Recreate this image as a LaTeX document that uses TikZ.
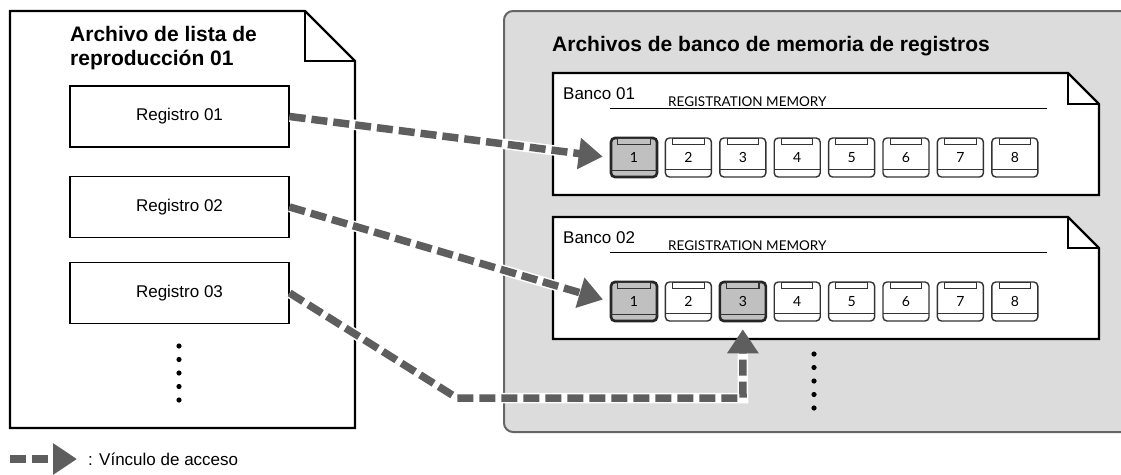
\documentclass[tikz,border=0pt]{standalone}
\usepackage{fontspec}
\setmainfont{Liberation Sans}
\newfontfamily\regfont{Lato}
\usetikzlibrary{arrows.meta,calc}
\definecolor{panelgray}{HTML}{DCDCDC}
\definecolor{panelline}{HTML}{666666}
\definecolor{linkgray}{HTML}{5E5E5E}
\definecolor{btngray}{HTML}{C0C0C0}
\definecolor{btnline}{HTML}{333333}
\begin{document}
\begin{tikzpicture}[x=1pt,y=-1pt,
  doc/.style={draw=black, line width=2.2pt, fill=white, line join=miter},
  bank/.style={draw=black, line width=2.4pt, fill=white, line join=miter},
  regbox/.style={draw=black, line width=1.3pt, fill=white, minimum width=219pt, minimum height=61pt, inner sep=0pt, font=\fontsize{17}{20}\selectfont},
  title/.style={font=\bfseries\fontsize{21}{24}\selectfont, anchor=base west, inner sep=0pt},
  banktext/.style={font=\fontsize{17}{20}\selectfont, anchor=base west, inner sep=0pt},
  regmem/.style={font=\regfont\fontsize{13.5}{15}\selectfont, anchor=base west, inner sep=0pt},
  btn/.style={draw=btnline, line width=1.4pt, fill=white, rounded corners=4pt, minimum width=46pt, minimum height=39pt, inner sep=0pt, font=\regfont\fontsize{14}{14}\selectfont},
  btnon/.style={btn, fill=btngray, line width=2.6pt, draw=black!85},
  dotmark/.style={fill=black, draw=none},
  link/.style={draw=linkgray, line width=7.5pt, dash pattern=on 16pt off 6pt, -{Triangle[length=24pt,width=30pt]}, shorten >=7pt, preaction={draw=white, line width=10.5pt, solid, -, shorten >=30pt}},
]
\useasboundingbox (0,0) rectangle (1121,474);

% right panel
\draw[fill=panelgray, draw=panelline, line width=2pt, rounded corners=9pt] (1140,11) -- (504,11) -- (504,432) -- (1140,432);
\node[title] (ptitle) at (552,51) {Archivos de banco de memoria de registros};

% left document
\draw[doc] (10,11) -- (305,11) -- (355,61) -- (355,428) -- (10,428) -- cycle;
\draw[doc, fill=none] (305,11) -- (305,61) -- (355,61);
\node[title] (ltitle1) at (70,41) {Archivo de lista de};
\node[title] (ltitle2) at (70,65) {reproducción 01};

\node[regbox] (r1) at (179.5,116.5) {Registro 01};
\node[regbox] (r2) at (179.5,207) {Registro 02};
\node[regbox] (r3) at (179.5,293) {Registro 03};

\foreach \k in {0,...,4} \fill[dotmark] (179,346+13.5*\k) circle (2.6);

% banks
\foreach \b/\Y in {1/73, 2/217} {
  \draw[bank] (553,\Y) -- (1068,\Y) -- (1099,\Y+31) -- (1099,\Y+122) -- (553,\Y+122) -- cycle;
  \draw[bank, fill=none] (1068,\Y) -- (1068,\Y+31) -- (1099,\Y+31);
  \node[banktext] (bt\b) at (563,\Y+26) {Banco 0\b};
  \node[regmem] (rm\b) at (668,\Y+33) {REGISTRATION MEMORY};
  \draw[line width=1pt] (610,\Y+35) -- (1047,\Y+35);
}

\foreach \b/\T in {1/138, 2/282} {
  \foreach \i in {1,...,8} {
    \pgfmathsetmacro\X{611+(\i-1)*54.4+23}
    \def\st{btn}\def\tf{white}\def\tw{1.1pt}
    \ifnum\b\i=11 \def\st{btnon}\def\tf{btngray}\def\tw{1.3pt}\fi
    \ifnum\b\i=21 \def\st{btnon}\def\tf{btngray}\def\tw{1.3pt}\fi
    \ifnum\b\i=23 \def\st{btnon}\def\tf{btngray}\def\tw{1.3pt}\fi
    \node[\st] (b\b-\i) at (\X,\T+19.5) {\i};
    \draw[draw=btnline, line width=\tw, fill=\tf] ($(b\b-\i.north west)+(8,1.5)$) rectangle ($(b\b-\i.north east)+(-8,7.5)$);
    \draw[draw=btnline, line width=1.1pt] ($(b\b-\i.south west)+(0.7,-8)$) -- ($(b\b-\i.south east)+(-0.7,-8)$);
  }
}

% links
\coordinate (c3a) at (457,398);
\coordinate (c3b) at (743,398);
\draw[link] (r1.east) -- (b1-1.west);
\draw[link] (r2.east) -- (b2-1.west);
\draw[link] (r3.east) -- (c3a) -- (c3b) -- (b2-3.south);

\foreach \k in {0,...,4} \fill[dotmark] (814,354+13.5*\k) circle (2.6);

% legend
\coordinate (lg1) at (10,459);
\coordinate (lg2) at (84,459);
\draw[link] (lg1) -- (lg2);
\node[font=\fontsize{17}{20}\selectfont, anchor=west, inner sep=0pt] (lgt) at (88,459) {: Vínculo de acceso};
\end{tikzpicture}
\end{document}
